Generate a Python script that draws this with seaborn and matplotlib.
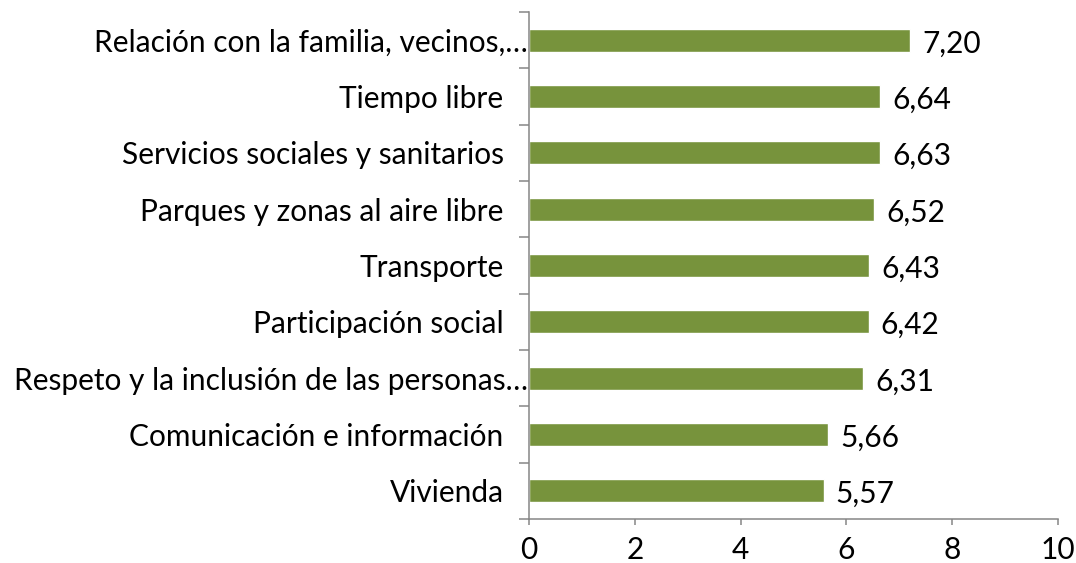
import matplotlib
matplotlib.use("Agg")
import matplotlib.pyplot as plt
import matplotlib.transforms as mtransforms
import seaborn as sns
import pandas as pd

categories = [
    "Relación con la familia, vecinos,…",
    "Tiempo libre",
    "Servicios sociales y sanitarios",
    "Parques y zonas al aire libre",
    "Transporte",
    "Participación social",
    "Respeto y la inclusión de las personas…",
    "Comunicación e información",
    "Vivienda",
]
values = [7.20, 6.64, 6.63, 6.52, 6.43, 6.42, 6.31, 5.66, 5.57]
value_labels = ["7,20", "6,64", "6,63", "6,52", "6,43", "6,42", "6,31", "5,66", "5,57"]
x_ticks = [0, 2, 4, 6, 8, 10]

BAR = "#77933C"
AXIS = "#868686"
FONT = "Lato"
FS = 21.5

sns.set_theme(style="white")
plt.rcParams["font.family"] = [FONT, "DejaVu Sans"]

df = pd.DataFrame({"category": categories, "value": values})

fig = plt.figure(figsize=(10.76, 5.63), dpi=100)
ax = fig.add_axes([529 / 1076, 1 - 519 / 563, (1058 - 529) / 1076, (519 - 12) / 563])

sns.barplot(data=df, x="value", y="category", orient="h", color=BAR,
            width=0.41, saturation=1, ax=ax)

ax.set_xlim(0, 10)
ax.set_xticks(x_ticks)
ax.set_xlabel("")
ax.set_ylabel("")

# tick marks between categories on the y axis
ax.set_yticks([i + 0.5 for i in range(-1, len(categories))], minor=True)
ax.tick_params(axis="y", which="minor", length=7.2, width=1.1, color=AXIS, left=True)
ax.tick_params(axis="y", which="major", length=0, pad=1, labelsize=FS, labelcolor="black")
ax.tick_params(axis="x", length=4.5, width=1.1, color=AXIS, bottom=True, pad=8,
               labelsize=FS, labelcolor="black")

for side in ["top", "right"]:
    ax.spines[side].set_visible(False)
for side in ["left", "bottom"]:
    ax.spines[side].set_color(AXIS)
    ax.spines[side].set_linewidth(1.1)

# labels that were not truncated sit a little further from the axis
shift = mtransforms.ScaledTranslation(-24 / 100, 0, fig.dpi_scale_trans)
for lab in ax.get_yticklabels():
    if not lab.get_text().endswith("…"):
        lab.set_transform(lab.get_transform() + shift)

for i, (v, t) in enumerate(zip(values, value_labels)):
    ax.text(v + 0.23, i + 0.06, t, va="center", ha="left", fontsize=FS, color="black")

fig.savefig("out.png", dpi=100, facecolor="white")
